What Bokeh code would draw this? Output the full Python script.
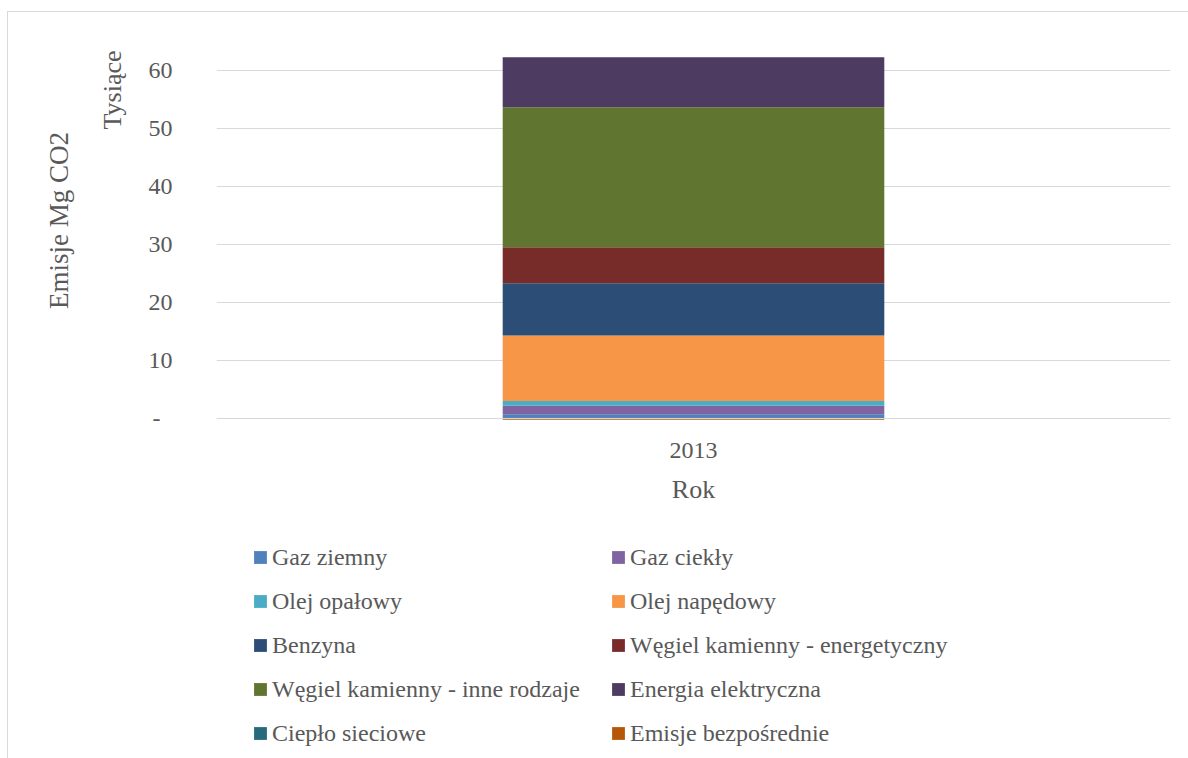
import numpy as np
from bokeh.plotting import figure
from bokeh.layouts import column
from bokeh.models import (FactorRange, Range1d, Legend, LegendItem, Span,
                          FixedTicker, Title)
from bokeh.embed import file_html
from bokeh.resources import INLINE

# ---- data (thousands of Mg CO2) ----
years = ["2013"]
series = ["Gaz ziemny", "Gaz ciekły", "Olej opałowy", "Olej napędowy", "Benzyna",
          "Węgiel kamienny - energetyczny", "Węgiel kamienny - inne rodzaje",
          "Energia elektryczna", "Ciepło sieciowe", "Emisje bezpośrednie"]
values = [0.74, 1.43, 0.86, 11.27, 9.01, 6.20, 24.12, 8.61, 0.0, -0.2]
colors = ["#4F81BD", "#8064A2", "#4BACC6", "#F79646", "#2C4D75",
          "#772C2A", "#5F7530", "#4D3B62", "#276A7C", "#B65708"]
y_ticks = [0, 10, 20, 30, 40, 50, 60]
y_tick_labels = {0: "-\u00a0\u00a0"}

FONT = "Liberation Serif"
TXT = "#595959"
GRID = "#d9d9d9"

p = figure(width=1180, height=508, x_range=FactorRange(*years),
           y_range=Range1d(-0.35, 68.56), output_backend="svg",
           toolbar_location=None, min_border_left=208, min_border_right=18,
           min_border_top=8, min_border_bottom=100)
p.outline_line_color = None
p.background_fill_color = "white"
p.border_fill_color = "white"

# stacking computed from data (positives up, negatives down)
vals = np.array(values, dtype=float)
pos = np.where(vals > 0, vals, 0)
neg = np.where(vals < 0, vals, 0)
pos_top = np.cumsum(pos)
pos_bot = pos_top - pos
neg_bot = np.cumsum(neg)
neg_top = neg_bot - neg

for i, name in enumerate(series):
    if vals[i] >= 0:
        b, t = pos_bot[i], pos_top[i]
    else:
        b, t = neg_bot[i], neg_top[i]
    p.vbar(x=years, bottom=[b], top=[t], width=0.4,
           fill_color=colors[i], line_color=None)

# axes
p.yaxis.ticker = FixedTicker(ticks=y_ticks)
p.yaxis.major_label_overrides = y_tick_labels
p.yaxis.axis_line_color = None
p.yaxis.major_tick_line_color = None
p.yaxis.minor_tick_line_color = None
p.yaxis.major_tick_out = 0
p.yaxis.major_label_standoff = 44
p.yaxis.major_label_text_font = FONT
p.yaxis.major_label_text_font_size = "24px"
p.yaxis.major_label_text_color = TXT

p.xaxis.axis_line_color = None
p.xaxis.major_tick_line_color = None
p.xaxis.major_tick_out = 0
p.xaxis.major_label_standoff = 22
p.xaxis.major_label_text_font = FONT
p.xaxis.major_label_text_font_size = "24px"
p.xaxis.major_label_text_color = TXT
p.xaxis.axis_label = "Rok"
p.xaxis.axis_label_text_font = FONT
p.xaxis.axis_label_text_font_size = "26px"
p.xaxis.axis_label_text_font_style = "normal"
p.xaxis.axis_label_text_color = TXT
p.xaxis.axis_label_standoff = 14

p.xgrid.grid_line_color = None
p.ygrid.grid_line_color = GRID
p.ygrid.grid_line_width = 1

p.add_layout(Span(location=0, dimension="width", line_color=GRID, line_width=1,
                  level="overlay"))

# axis titles on the left (inner: display units, outer: axis title)
p.add_layout(Title(text="Tysiące", align="right", offset=30, standoff=37,
                   text_font=FONT, text_font_size="26px",
                   text_font_style="normal", text_color=TXT), "left")
p.add_layout(Title(text="Emisje Mg CO2", align="center", offset=-18, standoff=8,
                   text_font=FONT, text_font_size="27px",
                   text_font_style="normal", text_color=TXT), "left")

# ---- legend panel (separate canvas below the chart) ----
q = figure(width=1180, height=238, x_range=Range1d(0, 1), y_range=Range1d(0, 1),
           output_backend="svg", toolbar_location=None, min_border=0)
q.axis.visible = False
q.grid.grid_line_color = None
q.outline_line_color = None
q.background_fill_color = "white"
q.border_fill_color = "white"

items = []
for i, name in enumerate(series):
    # zero-height proxy bar, only used for the legend swatch
    r = q.vbar(x=[0.5], bottom=[0], top=[0], width=0.0,
               fill_color=colors[i], line_color=None)
    items.append(LegendItem(label=name, renderers=[r]))

legend = Legend(items=items, location=(36, 11), orientation="horizontal",
                ncols=2, glyph_width=16, glyph_height=16, label_standoff=4,
                spacing=16, padding=0, margin=0, border_line_color=None,
                background_fill_alpha=0, label_text_font=FONT,
                label_text_font_size="24px", label_text_color=TXT,
                label_height=28, label_width=322)
q.add_layout(legend)

layout = column(p, q, spacing=0,
                styles={"border-left": "1px solid #d9d9d9",
                        "border-top": "1px solid #d9d9d9",
                        "margin-left": "7px", "margin-top": "11px"})

open("out.html", "w").write(file_html(layout, INLINE))
